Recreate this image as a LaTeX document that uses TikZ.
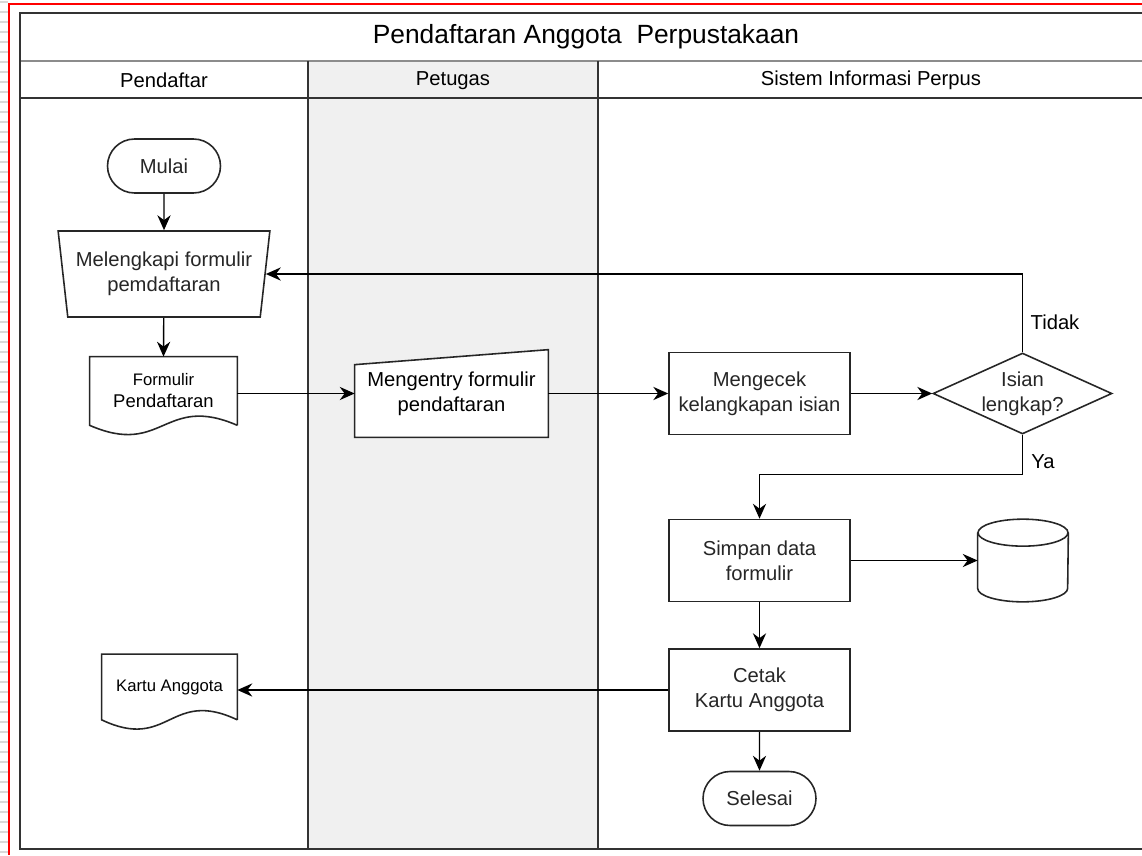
\documentclass[tikz,border=0pt]{standalone}
\usepackage{fontspec}
\setmainfont{Liberation Sans}
\usetikzlibrary{shapes.geometric,shapes.misc,arrows.meta,backgrounds}

\begin{document}
\begin{tikzpicture}[x=0.02cm,y=-0.02cm,
	teks/.style={font=\fontsize{11.5}{14}\selectfont},
	kecil/.style={font=\fontsize{9.5}{11.5}\selectfont},
	garis/.style={line width=0.9pt,black!85},
	proses/.style={teks,draw,garis,fill=white,minimum width=3.62cm,minimum height=1.64cm,align=center,inner sep=0pt},
	terminal/.style={teks,draw,garis,fill=white,rounded rectangle,minimum width=2.26cm,minimum height=1.08cm,inner sep=0pt},
	dokumen/.style={align=center,inner sep=0pt},
	panah/.style={-{Stealth[length=8.5pt,width=7.5pt]},line width=0.8pt}]

\useasboundingbox (0,0) rectangle (1142,855);

\begin{scope}[on background layer]
\fill[white] (0,0) rectangle (1142,855);
\foreach \y in {2,12,...,852}
	\draw[black!15,line width=0.8pt] (0,\y) -- (8,\y);
\draw[red,line width=1.2pt] (9,855) -- (9,4) -- (1142,4);

% lanes
\fill[black!6] (308,61) rectangle (598,849);
\draw[black!45,line width=1pt] (20,61) -- (1142,61);
\draw[black!80,line width=1pt] (20,98) -- (1142,98);
\draw[black!80,line width=1pt] (308,61) -- (308,849);
\draw[black!80,line width=1pt] (598,61) -- (598,849);
\draw[black!80,line width=1.3pt] (1142,13) -- (20,13) -- (20,849) -- (1142,849);
\end{scope}

\node[font=\fontsize{15}{18}\selectfont] (judul) at (586,37) {Pendaftaran Anggota\ \ Perpustakaan};
\node[teks] (lajur1) at (164,80) {Pendaftar};
\node[teks] (lajur2) at (453,81) {Petugas};
\node[teks] (lajur3) at (871,80) {Sistem Informasi Perpus};

\node[terminal] (mulai) at (164,166) {Mulai};
\node[teks,draw,garis,fill=white,trapezium,shape border rotate=180,trapezium angle=78.5,trapezium stretches=true,
	minimum width=4.24cm,minimum height=1.72cm,align=center,inner sep=0pt] (melengkapi) at (164,274) {Melengkapi formulir\\pemdaftaran};
\node[dokumen,minimum width=2.94cm,minimum height=1.36cm,font=\fontsize{10.5}{12.5}\selectfont] (formulir) at (163.5,391) {{\fontsize{9.5}{11}\selectfont Formulir}\\Pendaftaran};
\node[dokumen,teks,minimum width=3.86cm,minimum height=1.74cm] (mengentry) at (451.5,393.5) {Mengentry formulir\\pendaftaran};
\node[proses] (mengecek) at (759.5,393.5) {Mengecek\\kelangkapan isian};
\node[teks,draw,garis,fill=white,diamond,aspect=2.2,minimum width=3.58cm,minimum height=1.62cm,align=center,inner sep=0pt] (isian) at (1022.5,393.5) {Isian\\lengkap?};
\node[proses] (simpan) at (759.5,560.5) {Simpan data\\formulir};
\node[minimum width=1.8cm,minimum height=1.64cm,inner sep=0pt] (arsip) at (1023,560.5) {};
\node[proses] (cetak) at (759.5,690) {Cetak\\Kartu Anggota};
\node[dokumen,kecil,minimum width=2.7cm,minimum height=1.3cm] (kartu) at (169.5,687) {Kartu Anggota};
\node[terminal] (selesai) at (759.5,798.5) {Selesai};

\begin{scope}[on background layer]
\filldraw[garis,fill=white] ([yshift=-0.3cm]mengentry.north west) -- (mengentry.north east) -- (mengentry.south east) -- (mengentry.south west) -- cycle;
\filldraw[garis,fill=white] (formulir.south east) -- (formulir.north east) -- (formulir.north west) -- (formulir.south west)
	.. controls ([xshift=1.47cm,yshift=-0.64cm]formulir.south west) and ([xshift=-1.47cm,yshift=0.64cm]formulir.south east) .. (formulir.south east);
\filldraw[garis,fill=white] (kartu.south east) -- (kartu.north east) -- (kartu.north west) -- (kartu.south west)
	.. controls ([xshift=1.35cm,yshift=-0.64cm]kartu.south west) and ([xshift=-1.35cm,yshift=0.64cm]kartu.south east) .. (kartu.south east);
\filldraw[garis,fill=white] ([yshift=-0.27cm]arsip.north west) -- ([yshift=0.27cm]arsip.south west) arc (180:360:0.9cm and 0.27cm) -- ([yshift=-0.27cm]arsip.north east);
\draw[garis] ([yshift=-0.27cm]arsip.north) ellipse (0.9cm and 0.27cm);
\end{scope}

\draw[panah] (mulai) -- (melengkapi);
\draw[panah] (melengkapi) -- (formulir.north);
\draw[panah] (formulir.east |- mengentry.west) -- (mengentry.west);
\draw[panah] (mengentry.east) -- (mengecek.west);
\draw[panah] (mengecek.east) -- (isian.west);
\draw[panah] (isian.north) |- (melengkapi.east);
\draw[panah] (isian.south) -- ++(0,40) -| (simpan.north);
\draw[panah] (simpan.east) -- (arsip.west);
\draw[panah] (simpan) -- (cetak);
\draw[panah] (cetak.west) -- (cetak.west -| kartu.east);
\draw[panah] (cetak) -- (selesai);

\node[teks] (tidak) at (1055,322) {Tidak};
\node[teks] (ya) at (1043,462) {Ya};

\end{tikzpicture}
\end{document}
